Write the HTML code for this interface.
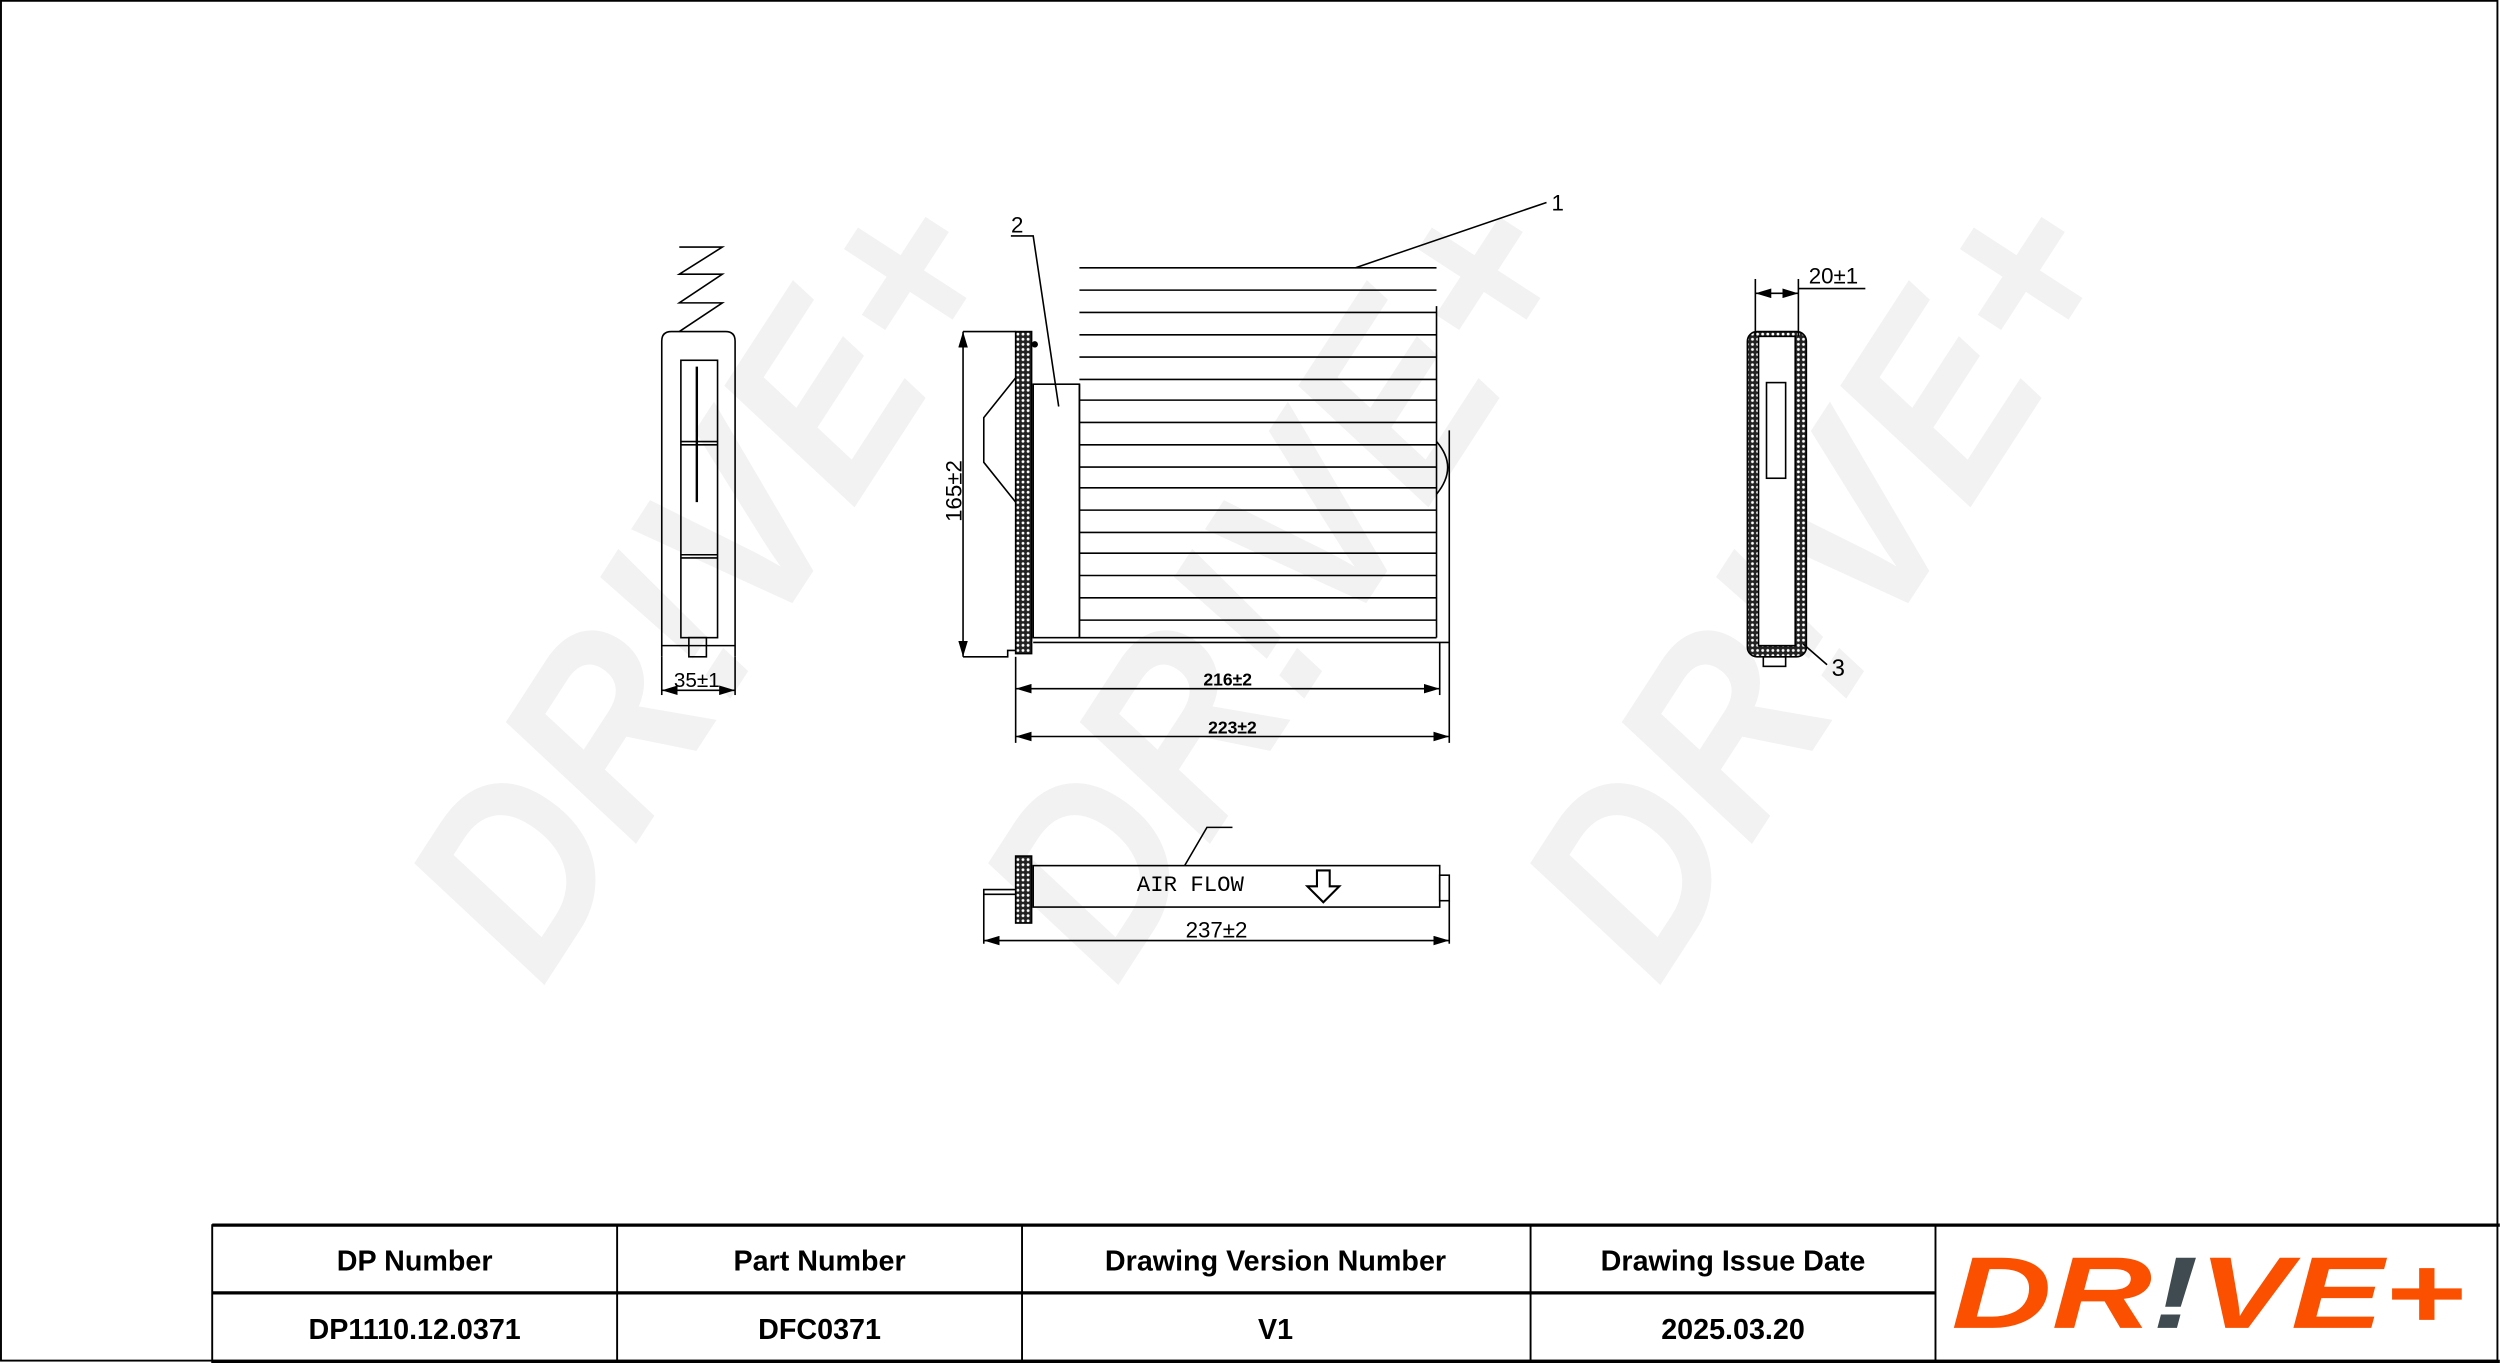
<!DOCTYPE html>
<html><head><meta charset="utf-8"><style>
html,body{margin:0;padding:0;background:#fff;}
svg{display:block;}
</style></head><body>
<svg width="2500" height="1363" viewBox="0 0 1568 855" xmlns="http://www.w3.org/2000/svg" font-family="Liberation Sans, sans-serif">
<defs>
<pattern id="h" width="3.2" height="3.2" patternUnits="userSpaceOnUse">
<rect width="3.2" height="3.2" fill="#222"/><circle cx="1.6" cy="1.6" r="0.9" fill="#fff"/>
</pattern>
<marker id="a" viewBox="0 0 10 6" refX="10" refY="3" markerWidth="10" markerHeight="6" orient="auto-start-reverse" markerUnits="userSpaceOnUse"><path d="M0,0L10,3L0,6z" fill="#000"/></marker>
</defs>
<rect x="0" y="0" width="1568" height="855" fill="#fff"/>
<!-- watermarks -->
<g fill="#f2f2f2" font-weight="bold" font-style="italic" font-size="160">
<text x="0" y="0" transform="translate(340,620) rotate(-57)" textLength="540" lengthAdjust="spacingAndGlyphs">DR!VE+</text>
<text x="0" y="0" transform="translate(700,620) rotate(-57)" textLength="540" lengthAdjust="spacingAndGlyphs">DR!VE+</text>
<text x="0" y="0" transform="translate(1040,620) rotate(-57)" textLength="540" lengthAdjust="spacingAndGlyphs">DR!VE+</text>
</g>
<rect x="0.5" y="0.5" width="1566" height="853" fill="none" stroke="#000" stroke-width="1.2"/>

<g stroke="#000" stroke-width="1" fill="none">
<!-- left view -->
<polyline points="426,155 453,155 426,172 453,172 426,190 453,190 426,208"/>
<path d="M415,412 L415,214 Q415,208 421,208 L455,208 Q461,208 461,214 L461,412"/>
<line x1="415" y1="405" x2="461" y2="405"/>
<rect x="427" y="226" width="23" height="174"/>
<line x1="427" y1="277" x2="450" y2="277"/><line x1="427" y1="279" x2="450" y2="279"/>
<line x1="427" y1="348" x2="450" y2="348"/><line x1="427" y1="350" x2="450" y2="350"/>
<line x1="437" y1="230" x2="437" y2="315" stroke-width="1.5"/>
<rect x="432" y="400" width="11" height="12"/>
<line x1="415" y1="412" x2="415" y2="436"/><line x1="461" y1="412" x2="461" y2="436"/>
<line x1="415" y1="433" x2="461" y2="433" marker-start="url(#a)" marker-end="url(#a)"/>

<!-- center view pleats -->
<line x1="677" y1="168" x2="901" y2="168"/>
<line x1="677" y1="182" x2="901" y2="182"/>
<g>
<line x1="677" y1="196" x2="901" y2="196"/><line x1="677" y1="210" x2="901" y2="210"/>
<line x1="677" y1="224" x2="901" y2="224"/><line x1="677" y1="238" x2="901" y2="238"/>
<line x1="677" y1="251" x2="901" y2="251"/><line x1="677" y1="265" x2="901" y2="265"/>
<line x1="677" y1="279" x2="901" y2="279"/><line x1="677" y1="293" x2="901" y2="293"/>
<line x1="677" y1="306" x2="901" y2="306"/><line x1="677" y1="320" x2="901" y2="320"/>
<line x1="677" y1="334" x2="901" y2="334"/><line x1="677" y1="347" x2="901" y2="347"/>
<line x1="677" y1="361" x2="901" y2="361"/><line x1="677" y1="375" x2="901" y2="375"/>
<line x1="677" y1="389" x2="901" y2="389"/><line x1="677" y1="400" x2="901" y2="400"/>
</g>
<line x1="901" y1="192" x2="901" y2="400"/>
<line x1="677" y1="241" x2="677" y2="400"/>
<path d="M901,277 Q915,293 901,310"/>
<line x1="648" y1="403" x2="909" y2="403"/>
<line x1="909" y1="270" x2="909" y2="466"/>
<rect x="648" y="241" width="29" height="159"/>
<rect x="637" y="208" width="10" height="202" fill="url(#h)"/>
<polyline points="604,208 637,208"/>
<polyline points="604,412 632,412 632,408 637,408"/>
<polyline points="637,237 617,262 617,290 637,315"/>
<circle cx="649" cy="216" r="1.5" fill="#000"/>
<line x1="604" y1="208" x2="604" y2="412" marker-start="url(#a)" marker-end="url(#a)"/>
<line x1="637" y1="412" x2="637" y2="466"/>
<line x1="903" y1="403" x2="903" y2="436"/>
<line x1="637" y1="432" x2="903" y2="432" marker-start="url(#a)" marker-end="url(#a)"/>
<line x1="637" y1="462" x2="909" y2="462" marker-start="url(#a)" marker-end="url(#a)"/>
<polyline points="634,148 648,148 664,255"/>
<line x1="970" y1="127" x2="850" y2="168"/>

<!-- right view -->
<rect x="1096" y="208" width="37" height="204" rx="6" fill="url(#h)"/>
<rect x="1103" y="211" width="23" height="194" fill="#fff"/>
<rect x="1108" y="240" width="12" height="60"/>
<rect x="1106" y="412" width="14" height="6"/>
<line x1="1101" y1="175" x2="1101" y2="211"/><line x1="1128" y1="175" x2="1128" y2="211"/>
<line x1="1101" y1="184" x2="1128" y2="184" marker-start="url(#a)" marker-end="url(#a)"/>
<line x1="1128" y1="181" x2="1170" y2="181"/>
<line x1="1131" y1="404" x2="1146" y2="417"/>

<!-- bottom view -->
<rect x="648" y="543" width="255" height="26"/>
<rect x="637" y="537" width="10" height="42" fill="url(#h)"/>
<rect x="903" y="549" width="6" height="16"/>
<polyline points="617,592 617,558 637,558"/>
<line x1="617" y1="561" x2="637" y2="561"/>
<line x1="909" y1="565" x2="909" y2="592"/>
<line x1="617" y1="590" x2="909" y2="590" marker-start="url(#a)" marker-end="url(#a)"/>
<polyline points="773,519 757,519 743,543"/>
<path d="M826,546 L834,546 L834,556 L840,556 L830,566 L820,556 L826,556 Z" stroke-width="1.3"/>
</g>

<g fill="#000" font-size="13">
<text x="437" y="431" text-anchor="middle" font-size="13">35±1</text>
<text x="638" y="146" text-anchor="middle" font-size="14">2</text>
<text x="977" y="132" text-anchor="middle" font-size="14">1</text>
<text x="770" y="430" text-anchor="middle" font-size="11" font-weight="bold">216±2</text>
<text x="773" y="460" text-anchor="middle" font-size="11" font-weight="bold">223±2</text>
<text transform="translate(603,308) rotate(-90)" text-anchor="middle" font-size="14">165±2</text>
<text x="1150" y="178" text-anchor="middle" font-size="14">20±1</text>
<text x="1153" y="424" text-anchor="middle" font-size="15">3</text>
<text x="763" y="588" text-anchor="middle" font-size="14">237±2</text>
<text x="713" y="559" font-size="14" font-family="Liberation Mono, monospace">AIR  FLOW</text>
</g>

<!-- table -->
<g stroke="#000" fill="none">
<line x1="133" y1="768.5" x2="1568" y2="768.5" stroke-width="2"/>
<line x1="133" y1="811" x2="1214" y2="811" stroke-width="2"/>
<line x1="133" y1="854" x2="1568" y2="854" stroke-width="2"/>
<line x1="133" y1="768" x2="133" y2="855" stroke-width="1.2"/>
<line x1="387" y1="768" x2="387" y2="855" stroke-width="1.2"/>
<line x1="641" y1="768" x2="641" y2="855" stroke-width="1.2"/>
<line x1="960" y1="768" x2="960" y2="855" stroke-width="1.2"/>
<line x1="1214" y1="768" x2="1214" y2="855" stroke-width="1.2"/>
</g>
<g font-weight="bold" font-size="18" text-anchor="middle" fill="#000">
<text x="260" y="797">DP Number</text>
<text x="514" y="797">Part Number</text>
<text x="800" y="797">Drawing Version Number</text>
<text x="1087" y="797">Drawing Issue Date</text>
<text x="260" y="840">DP1110.12.0371</text>
<text x="514" y="840">DFC0371</text>
<text x="800" y="840">V1</text>
<text x="1087" y="840">2025.03.20</text>
</g>
<text x="1224" y="833" font-size="64" font-weight="bold" font-style="italic" textLength="322" lengthAdjust="spacingAndGlyphs" fill="#fa5000">DR<tspan fill="#3f4b50">!</tspan>VE+</text>
</svg>
</body></html>
